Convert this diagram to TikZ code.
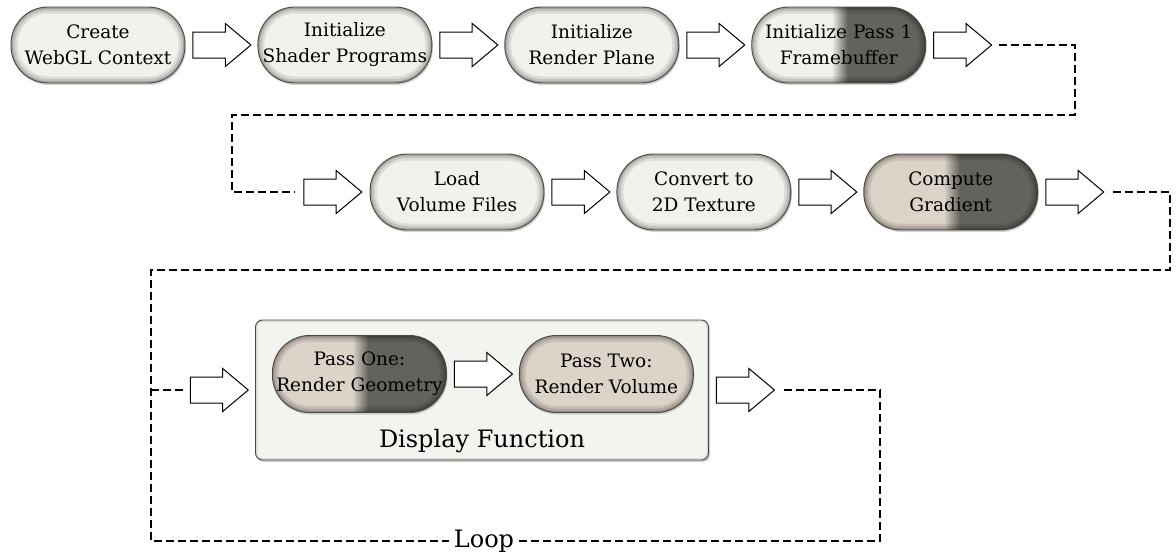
\documentclass[tikz,border=0pt]{standalone}
\usepackage{fontspec}
\setmainfont{DejaVu Serif}
\usepackage{tikz}
\usetikzlibrary{shapes.arrows, positioning, shadows, calc}
\definecolor{BoxLight}{HTML}{F2F2EC}
\definecolor{BoxBeige}{HTML}{DCD3C9}
\definecolor{BoxDark}{HTML}{62635D}
\definecolor{EdgeGray}{HTML}{4A4A46}
\definecolor{PanelFill}{HTML}{F3F3EF}
\pgfdeclarehorizontalshading{lightdark}{100bp}{color(0bp)=(BoxLight); color(48bp)=(BoxLight); color(52.5bp)=(BoxDark); color(100bp)=(BoxDark)}
\pgfdeclarehorizontalshading{beigedark}{100bp}{color(0bp)=(BoxBeige); color(48bp)=(BoxBeige); color(52.5bp)=(BoxDark); color(100bp)=(BoxDark)}
\tikzset{
  % Box styles
  stepbox/.style={rectangle, rounded corners=37pt, draw=EdgeGray, line width=0.9pt, fill=BoxLight, minimum width=174pt, minimum height=76pt, inner sep=0pt, align=center, font=\fontsize{18.5}{26}\selectfont, drop shadow={shadow xshift=1pt, shadow yshift=-2pt, opacity=0.35},
    path picture={\foreach \w/\o in {13/0.09,8/0.11,3.5/0.18}{\draw[line width=\w pt, black, opacity=\o, rounded corners=37pt] (path picture bounding box.south west) rectangle (path picture bounding box.north east);}}},
  halfbox/.style={stepbox, shading=lightdark},
  gradbox/.style={stepbox, shading=beigedark},
  passbox/.style={stepbox, fill=BoxBeige},
  panelbox/.style={rectangle, rounded corners=7pt, draw=EdgeGray, line width=0.9pt, fill=PanelFill, minimum width=453pt, minimum height=140pt, drop shadow={shadow xshift=1.5pt, shadow yshift=-2pt, opacity=0.4},
    path picture={\draw[line width=4pt, black, opacity=0.1, rounded corners=7pt] (path picture bounding box.south west) rectangle (path picture bounding box.north east);}},
  % Arrow styles
  blockarrow/.style={single arrow, draw=black, line width=1pt, fill=white, minimum height=58pt, inner sep=0pt, inner ysep=12.5pt, single arrow head extend=8.5pt, single arrow tip angle=80},
  loopline/.style={draw=black, line width=1.8pt, dash pattern=on 8pt off 4pt},
  bigtext/.style={font=\fontsize{24}{28}\selectfont}
}
\begin{document}
\begin{tikzpicture}[x=1pt, y=-1pt]
  \useasboundingbox (0,0) rectangle (1176,557);

  % Setup row
  \node[stepbox] (context) at (98,45) {Create\\WebGL Context};
  \node[stepbox, right=72pt of context] (shaders) {Initialize\\Shader Programs};
  \node[stepbox, right=72pt of shaders] (plane) {Initialize\\Render Plane};
  \node[halfbox, right=72pt of plane] (fbo) {Initialize Pass 1\\Framebuffer};
  \node[blockarrow, right=7pt of context] (a1) {};
  \node[blockarrow, right=7pt of shaders] (a2) {};
  \node[blockarrow, right=7pt of plane] (a3) {};
  \node[blockarrow, right=7pt of fbo] (a4) {};

  % Volume row
  \node[stepbox] (load) at (457,192) {Load\\Volume Files};
  \node[stepbox, right=72pt of load] (convert) {Convert to\\2D Texture};
  \node[gradbox, right=72pt of convert] (gradient) {Compute\\Gradient};
  \node[blockarrow, left=7pt of load] (a5) {};
  \node[blockarrow, right=7pt of load] (a6) {};
  \node[blockarrow, right=7pt of convert] (a7) {};
  \node[blockarrow, right=7pt of gradient] (a8) {};

  % Display function
  \node[panelbox] (display) at (482,390) {};
  \node[gradbox, minimum height=77pt, anchor=west] (passone) at (272,374) {Pass One:\\Render Geometry};
  \node[passbox, minimum height=77pt, right=72pt of passone] (passtwo) {Pass Two:\\Render Volume};
  \node[blockarrow, right=7pt of passone] (a11) {};
  \node[bigtext] (title) at (482,441) {Display Function};
  \node[blockarrow, left=6pt of display] (a9) {};
  \node[blockarrow, right=7pt of display] (a10) {};
  \node[bigtext, inner xsep=5pt] (loop) at (484,541) {Loop};

  % Dashed connectors
  \coordinate (c1) at (1075,115);
  \coordinate (c2) at (232,115);
  \coordinate (c3) at (1170,270);
  \coordinate (c4) at (151,270);
  \coordinate (c5) at (880,390);
  \draw[loopline] ([xshift=7pt]a4.tip) -| (c1) -- (c2) |- ([xshift=-8pt]a5.tail);
  \draw[loopline] ([xshift=8pt]a8.tip) -| (c3) -- (c4) |- (loop.west);
  \draw[loopline] (loop.east) -| (c5) -- ([xshift=9pt]a10.tip);
  \draw[loopline] (c4 |- a9.tail) -- ([xshift=-7pt]a9.tail);
\end{tikzpicture}
\end{document}
